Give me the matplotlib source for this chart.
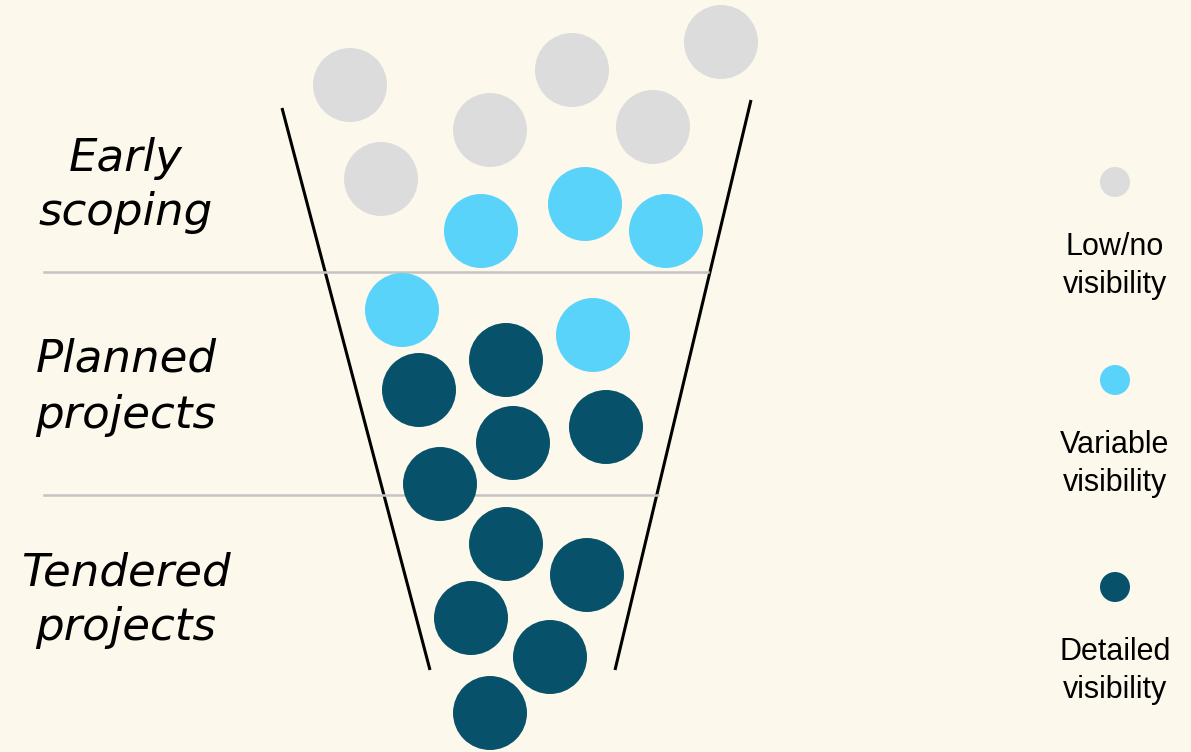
import matplotlib.pyplot as plt
from matplotlib.patches import Circle

# circle centres in pixel coordinates (x right, y down) and their visibility class
ball_x = [350, 381, 490, 572, 653, 721,
          481, 585, 666, 402, 593,
          506, 419, 513, 606, 440, 506, 587, 471, 550, 490]
ball_y = [85, 179, 130, 70, 127, 42,
          231, 204, 231, 310, 335,
          360, 390, 443, 427, 484, 544, 575, 618, 657, 713]
ball_kind = ['low'] * 6 + ['variable'] * 5 + ['detailed'] * 10

colors = {'low': '#dcdcdc', 'variable': '#5ad3fa', 'detailed': '#07526a'}

stage_labels = [['Early', 'scoping'], ['Planned', 'projects'], ['Tendered', 'projects']]
legend_kinds = ['low', 'variable', 'detailed']
legend_labels = [['Low/no', 'visibility'], ['Variable', 'visibility'], ['Detailed', 'visibility']]

bg = '#fcf8eb'
fig = plt.figure(figsize=(11.91, 7.52), dpi=100, facecolor=bg)
ax = fig.add_axes([0, 0, 1, 1])
ax.set_facecolor(bg)
ax.set_xlim(0, 1191)
ax.set_ylim(752, 0)
ax.set_aspect('equal')
ax.axis('off')

# funnel walls
ax.plot([282, 430], [108, 670], color='black', lw=2.2, solid_capstyle='butt')
ax.plot([751, 615], [100, 670], color='black', lw=2.2, solid_capstyle='butt')

# stage separators
ax.plot([44, 708], [272, 272], color='#c4c4c4', lw=1.8)
ax.plot([44, 658], [495, 495], color='#c4c4c4', lw=1.8)

for x, y, k in zip(ball_x, ball_y, ball_kind):
    ax.add_patch(Circle((x, y), 37, color=colors[k], lw=0, zorder=3))

# stage labels
stage_base = [(171, 225), (372, 428), (585, 640)]
for lines, bases in zip(stage_labels, stage_base):
    for txt, yb in zip(lines, bases):
        ax.text(126, yb, txt, ha='center', va='baseline', fontsize=32.5,
                style='italic', family='DejaVu Sans', color='black')

# legend
legend_y = [182, 380, 587]
for k, lines, y in zip(legend_kinds, legend_labels, legend_y):
    ax.add_patch(Circle((1115, y), 15, color=colors[k], lw=0))
    for i, txt in enumerate(lines):
        ax.text(1115, y + 73 + i * 38, txt, ha='center', va='baseline',
                fontsize=22, family='Liberation Sans', color='black')

fig.savefig('out.png', dpi=100, facecolor=bg)
